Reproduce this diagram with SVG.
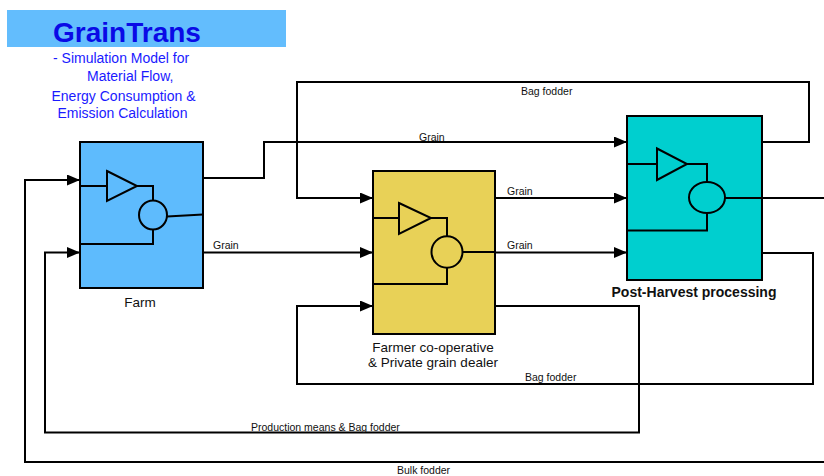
<svg xmlns="http://www.w3.org/2000/svg" width="824" height="476" viewBox="0 0 824 476">
<style>
.blk{stroke:#000;stroke-width:2}
.in{fill:none;stroke:#000;stroke-width:2}
.cn{fill:none;stroke:#000;stroke-width:2}
.lbl{font-family:"Liberation Sans",Arial,sans-serif;font-size:10.5px;fill:#111}
.nm{font-family:"Liberation Sans",Arial,sans-serif;font-size:13.5px;fill:#111}
.sub{font-family:"Liberation Sans",Arial,sans-serif;font-size:14px;fill:#1a1aff}
</style>
<defs>
<marker id="arr" markerUnits="userSpaceOnUse" markerWidth="13" markerHeight="11" refX="13" refY="5.5" orient="auto">
<path d="M0,0 L13,5.5 L0,11 Z" fill="#000"/>
</marker>
</defs>
<rect width="824" height="476" fill="#fff"/>
<g id="title">
<rect x="7" y="10" width="279" height="37" fill="#63bdfd"/>
<text x="127" y="42" text-anchor="middle" font-family="'Liberation Sans',Arial,sans-serif" font-size="28" font-weight="bold" fill="#0a0ae6">GrainTrans</text>
<text class="sub" x="53" y="63">- Simulation Model for</text>
<text class="sub" x="87" y="81">Material Flow,</text>
<text class="sub" x="51.5" y="101">Energy Consumption &amp;</text>
<text class="sub" x="57.5" y="118">Emission Calculation</text>
</g>
<g id="connectors">
<path class="cn" d="M203,178 H264 V142 H627" marker-end="url(#arr)"/>
<path class="cn" d="M203,252.5 H373" marker-end="url(#arr)"/>
<path class="cn" d="M495,198 H627" marker-end="url(#arr)"/>
<path class="cn" d="M495,252.5 H627" marker-end="url(#arr)"/>
<path class="cn" d="M762,142 H809 V82 H297 V198 H373" marker-end="url(#arr)"/>
<path class="cn" d="M762,253 H813 V384 H297 V306 H373" marker-end="url(#arr)"/>
<path class="cn" d="M495,306 H639 V432.5 H45 V252.5 H80" marker-end="url(#arr)"/>
<path class="cn" d="M824,462 H25 V180 H80" marker-end="url(#arr)"/>
<path class="cn" d="M762,198 H824"/>
<text class="lbl" x="521" y="94.5">Bag fodder</text>
<text class="lbl" x="419" y="140.5">Grain</text>
<text class="lbl" x="507" y="195">Grain</text>
<text class="lbl" x="507" y="249">Grain</text>
<text class="lbl" x="213" y="249">Grain</text>
<text class="lbl" x="525" y="380.5">Bag fodder</text>
<text class="lbl" x="251" y="431">Production means &amp; Bag fodder</text>
<text class="lbl" x="397" y="474">Bulk fodder</text>
</g>
<g id="farm">
<rect class="blk" x="80" y="142" width="123" height="146" fill="#5ebbfd"/>
<path class="in" d="M80,186 H107 M107,171 L137,186 L107,201 Z M137,186 H153 V200.5 M153,229.5 V244 H80 M167,216.5 L203,214.5"/>
<ellipse class="in" cx="153" cy="215" rx="14" ry="14.5"/>
<text class="nm" x="140" y="307" text-anchor="middle" font-size="13">Farm</text>
</g>
<g id="coop">
<rect class="blk" x="373" y="171" width="122" height="163" fill="#e8d157"/>
<path class="in" d="M373,218 H399 M399,203 L431,218 L399,234 Z M431,218 H447 V236 M447,267.5 V284 H373 M462.5,252 H495"/>
<ellipse class="in" cx="447" cy="252" rx="15.5" ry="15.7"/>
<text class="nm" x="433" y="352" text-anchor="middle">Farmer co-operative</text>
<text class="nm" x="433" y="367" text-anchor="middle">&amp; Private grain dealer</text>
</g>
<g id="postharvest">
<rect class="blk" x="627" y="116" width="135" height="164" fill="#00cfcf"/>
<path class="in" d="M627,164 H657 M657,148.5 L687,164 L657,180 Z M687,164 H707 V182 M707,213 V230.5 H627 M725,198 H762"/>
<ellipse class="in" cx="707" cy="197.5" rx="18" ry="15.5"/>
<text x="694" y="297" text-anchor="middle" font-family="'Liberation Sans',Arial,sans-serif" font-size="14" font-weight="bold" fill="#111">Post-Harvest processing</text>
</g>
</svg>
